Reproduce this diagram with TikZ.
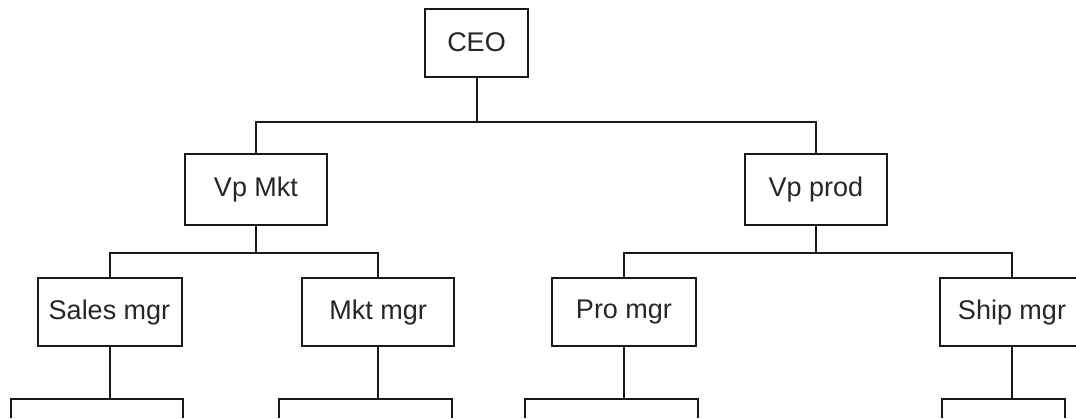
\documentclass[tikz,border=0pt]{standalone}
\usepackage{fontspec}
\setmainfont{Liberation Sans}
\begin{document}
\begin{tikzpicture}[x=1pt,y=-1pt,
  post/.style={draw=black!90,line width=2pt,fill=white,inner sep=0pt,
    font=\fontsize{27}{31}\selectfont,text=black!85},
  link/.style={draw=black!90,line width=2pt}]
\clip (0,0) rectangle (1076,418);
\fill[white] (0,0) rectangle (1076,418);

% boxes
\node[post,minimum width=103pt,minimum height=68pt] (ceo) at (476.5,42.5) {CEO};
\node[post,minimum width=142pt,minimum height=71pt] (vpm) at (256,189.5) {Vp Mkt};
\node[post,minimum width=142pt,minimum height=71pt] (vpp) at (816,189.5) {Vp prod};
\node[post,minimum width=144pt,minimum height=68pt] (sales) at (109.5,312.3) {Sales mgr};
\node[post,minimum width=152pt,minimum height=68pt] (mkt) at (378.2,312.3) {Mkt mgr};
\node[post,minimum width=144pt,minimum height=68pt] (pro) at (624,312.3) {Pro mgr};
\node[post,minimum width=144pt,minimum height=68pt] (ship) at (1012,312.3) {Ship mgr};

% bus lines
\coordinate (b1) at (0,122.3);
\coordinate (b2) at (0,253.3);
\coordinate (b3) at (0,398.5);

% CEO to vice presidents
\draw[link] (ceo.south) -- (ceo.south |- b1);
\draw[link] (vpm.north) |- (b1 -| vpp.north) -- (vpp.north);

% vice presidents to managers
\draw[link] (vpm.south) -- (vpm.south |- b2);
\draw[link] (sales.north) |- (b2 -| mkt.north) -- (mkt.north);
\draw[link] (vpp.south) -- (vpp.south |- b2);
\draw[link] (pro.north) |- (b2 -| ship.north) -- (ship.north);

% stubs below the managers
\coordinate (s1) at (11.3,418);  \coordinate (s2) at (183,418);
\coordinate (m1) at (279.3,418); \coordinate (m2) at (452,418);
\coordinate (p1) at (525,418);   \coordinate (p2) at (698,418);
\coordinate (h1) at (942,418);   \coordinate (h2) at (1065,418);
\draw[link] (sales.south) -- (sales.south |- b3);
\draw[link] (s1) |- (b3 -| s2) -- (s2);
\draw[link] (mkt.south) -- (mkt.south |- b3);
\draw[link] (m1) |- (b3 -| m2) -- (m2);
\draw[link] (pro.south) -- (pro.south |- b3);
\draw[link] (p1) |- (b3 -| p2) -- (p2);
\draw[link] (ship.south) -- (ship.south |- b3);
\draw[link] (h1) |- (b3 -| h2) -- (h2);
\end{tikzpicture}
\end{document}
